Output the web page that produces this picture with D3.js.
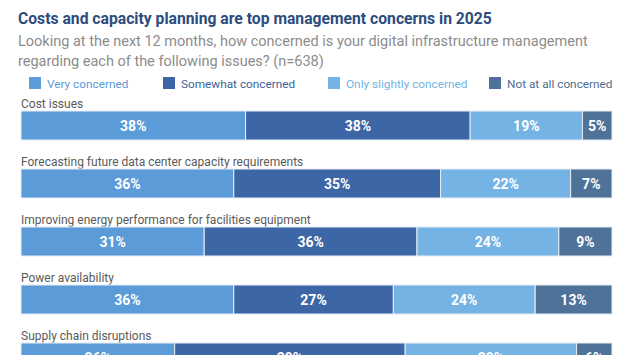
<!DOCTYPE html>
<html><head><meta charset="utf-8">
<script src="https://cdn.jsdelivr.net/npm/d3@7"></script>
<style>body{margin:0;background:#fff;}svg{display:block;font-family:Roboto,sans-serif;}</style>
</head><body><svg id="c" width="627" height="355"></svg>
<script>
const title = "Costs and capacity planning are top management concerns in 2025";
const subtitle = ["Looking at the next 12 months, how concerned is your digital infrastructure management",
                  "regarding each of the following issues? (n=638)"];
const categories = ["Cost issues","Forecasting future data center capacity requirements","Improving energy performance for facilities equipment","Power availability","Supply chain disruptions"];
const seriesNames = ["Very concerned","Somewhat concerned","Only slightly concerned","Not at all concerned"];
const veryConcerned = [38,36,31,36,26];
const somewhatConcerned = [38,35,36,27,39];
const slightlyConcerned = [19,22,24,24,29];
const notConcerned = [5,7,9,13,6];
const colors = ["#5b9bd8","#3d66a6","#74b3e3","#4f7299"];
const legendText = ["#5b9bd8","#3d5f9c","#74b3e3","#4f6d92"];

const svg = d3.select("#c");
svg.append("text").attr("x",18).attr("y",24).attr("fill","#2c4c7d").attr("font-size",15.7).attr("font-weight",700).text(title);
subtitle.forEach((s,i)=>svg.append("text").attr("x",18).attr("y",46+i*20).attr("fill","#8c8c8c").attr("font-size",14.5).text(s));

const legendX = [29,163,328,489];
seriesNames.forEach((n,i)=>{
  const g = svg.append("g").attr("transform",`translate(${legendX[i]},77)`);
  g.append("rect").attr("width",12).attr("height",12).attr("fill",colors[i]);
  g.append("text").attr("x",18).attr("y",10.5).attr("font-size",11.8).attr("fill",legendText[i]).text(n);
});

const data = categories.map((c,i)=>({cat:c, v0:veryConcerned[i], v1:somewhatConcerned[i], v2:slightlyConcerned[i], v3:notConcerned[i]}));
const stack = d3.stack().keys(["v0","v1","v2","v3"])(data);
const x = d3.scaleLinear().domain([0,100]).range([21,612]);
const y = d3.scaleBand().domain(categories).range([111,111+58*5]).paddingOuter(0);
const barH = 29;

categories.forEach(c=>{
  svg.append("text").attr("x",21).attr("y",y(c)-3.5).attr("font-size",12).attr("fill","#5a5a5a").text(c);
});

stack.forEach((s,k)=>{
  const g = svg.append("g");
  s.forEach(d=>{
    const x0 = x(d[0]), x1 = x(d[1]);
    g.append("rect").attr("x",x0).attr("y",y(d.data.cat)).attr("width",x1-x0).attr("height",barH)
      .attr("fill",colors[k]).attr("stroke","#e6eef7").attr("stroke-width",1);
    g.append("text").attr("x",(x0+x1)/2).attr("y",y(d.data.cat)+barH/2+5).attr("text-anchor","middle")
      .attr("font-size",14).attr("font-weight",700).attr("fill","#fff").text((d[1]-d[0])+"%");
  });
});
</script></body></html>
